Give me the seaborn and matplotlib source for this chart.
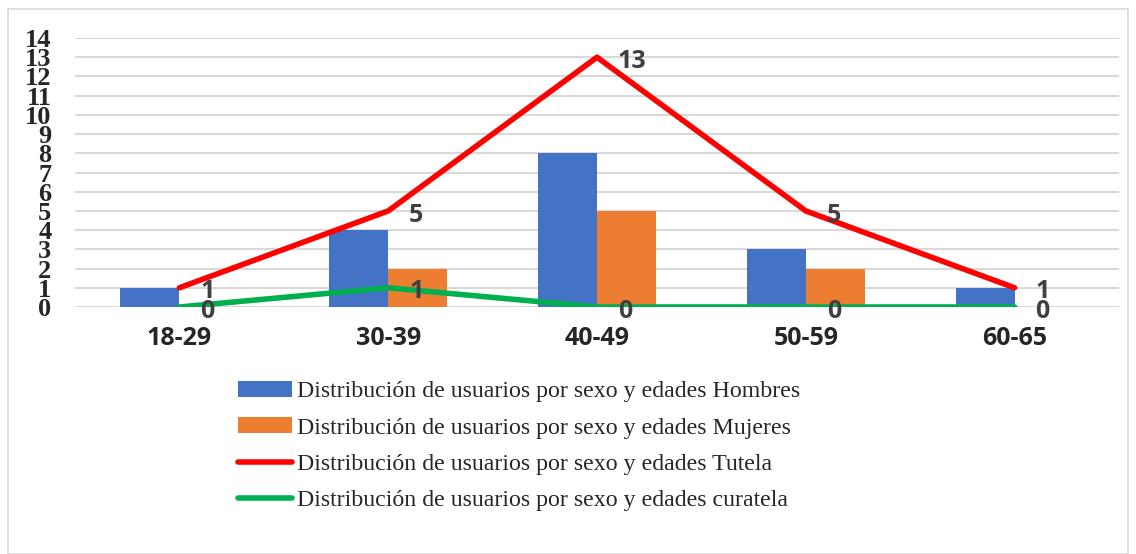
import matplotlib
matplotlib.use("Agg")
import matplotlib.pyplot as plt
import seaborn as sns
import pandas as pd
import numpy as np
from matplotlib.patches import Patch, Rectangle
from matplotlib.lines import Line2D

categories = ["18-29", "30-39", "40-49", "50-59", "60-65"]
hombres = [1, 4, 8, 3, 1]
mujeres = [0, 2, 5, 2, 0]
tutela = [1, 5, 13, 5, 1]
curatela = [0, 1, 0, 0, 0]
series_names = [
    "Distribución de usuarios por sexo y edades Hombres",
    "Distribución de usuarios por sexo y edades Mujeres",
    "Distribución de usuarios por sexo y edades Tutela",
    "Distribución de usuarios por sexo y edades curatela",
]
colors = ["#4472C4", "#ED7D31", "#FF0000", "#00B050"]

sns.set_theme(style="white")
plt.rcParams['font.family'] = ['DejaVu Sans']

fig = plt.figure(figsize=(11.36, 5.54), dpi=100)
fig.patches.append(Rectangle((8/1136, 0), 1120/1136, 1 - 9/554, transform=fig.transFigure,
                             fill=False, edgecolor="#d9d9d9", lw=1.2))
ax = fig.add_axes([75/1136, 1 - 307/554, 1044/1136, 269/554])

df = pd.DataFrame({
    "cat": categories * 2,
    "val": hombres + mujeres,
    "serie": [series_names[0]] * 5 + [series_names[1]] * 5,
})
sns.barplot(data=df, x="cat", y="val", hue="serie", palette=colors[:2], width=0.565,
            ax=ax, legend=False, saturation=1, edgecolor="none")

idx = np.arange(len(categories))
sns.lineplot(x=idx, y=tutela, color=colors[2], lw=4, ax=ax, legend=False)
sns.lineplot(x=idx, y=curatela, color=colors[3], lw=4, ax=ax, legend=False)
for ln in ax.lines:
    ln.set_solid_capstyle("round")
    ln.set_zorder(4)

lbl_kw = dict(fontsize=18, fontweight="bold", color="#404040", family=["Open Sans", "DejaVu Sans"],
              va="center", ha="left", zorder=5)
for i, v in enumerate(tutela):
    ax.annotate(str(v), (i, v), xytext=(15, -3), textcoords="offset points", **lbl_kw)
for i, v in enumerate(curatela):
    ax.annotate(str(v), (i, v), xytext=(15, -3), textcoords="offset points", **lbl_kw)

ax.set_xlim(-0.5, 4.5)
ax.set_ylim(0, 14)
ax.set_yticks(range(0, 15))
ax.yaxis.grid(True, color="#d9d9d9", lw=1.5)
ax.set_axisbelow(True)
for s in ax.spines.values():
    s.set_visible(False)
ax.set_xlabel("")
ax.set_ylabel("")
ax.tick_params(axis="y", length=0, pad=17)
ax.tick_params(axis="x", length=0, pad=14)
for t in ax.get_yticklabels():
    t.set_fontfamily(["Liberation Serif"])
    t.set_fontweight("bold")
    t.set_fontsize(19)
for t in ax.get_xticklabels():
    t.set_fontfamily(["Open Sans"])
    t.set_fontweight("bold")
    t.set_fontsize(18)

handles = [
    Patch(facecolor=colors[0], edgecolor="none"),
    Patch(facecolor=colors[1], edgecolor="none"),
    Line2D([], [], color=colors[2], lw=4),
    Line2D([], [], color=colors[3], lw=4),
]
fig.legend(handles, series_names, loc="upper left", bbox_to_anchor=(238/1136, 1 - 381/554),
           frameon=False, prop={"family": "Liberation Serif", "size": 17.2},
           borderpad=0, borderaxespad=0,
           handlelength=2.25, handleheight=0.65, handletextpad=0.2, labelspacing=0.62)

fig.savefig("out.png", dpi=100)
